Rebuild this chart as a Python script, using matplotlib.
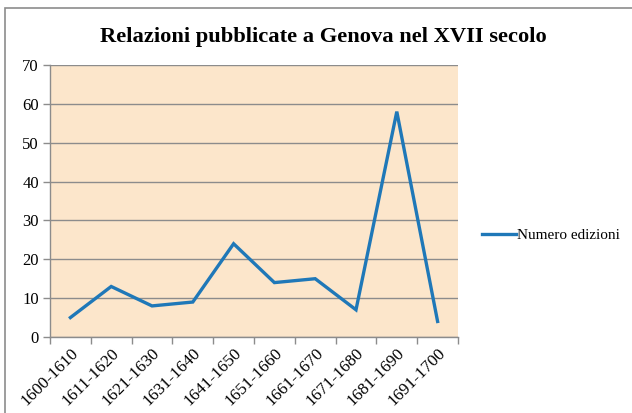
import matplotlib
matplotlib.use("Agg")
import matplotlib.pyplot as plt
import numpy as np
from matplotlib.patches import Rectangle
from matplotlib.lines import Line2D

categories = ["1600-1610", "1611-1620", "1621-1630", "1631-1640", "1641-1650",
              "1651-1660", "1661-1670", "1671-1680", "1681-1690", "1691-1700"]
values = [5, 13, 8, 9, 24, 14, 15, 7, 58, 4]
yticks = [0, 10, 20, 30, 40, 50, 60, 70]

plt.rcParams['font.family'] = ['Liberation Serif', 'DejaVu Serif']

fig = plt.figure(figsize=(6.32, 4.13), dpi=100)
fig.patch.set_facecolor('white')
W, H = 632, 413
ax = fig.add_axes([50 / W, 1 - 337 / H, (458 - 50) / W, (337 - 65) / H])
ax.set_facecolor('#fce6cb')

x = np.arange(len(categories))
line_color = '#1f78b8'
ax.plot(x, values, color=line_color, lw=2.4, solid_joinstyle='miter', zorder=3)

ax.set_xlim(-0.5, len(categories) - 0.5)
ax.set_ylim(0, 70)
ax.set_yticks(yticks)
ax.set_yticklabels([str(v) for v in yticks], fontsize=12)
ax.yaxis.grid(True, color='#8c8c8c', lw=1.0)
ax.set_axisbelow(True)

ax.set_xticks(x)
ax.set_xticklabels(categories, rotation=45, ha='right', rotation_mode='anchor', fontsize=12.3)
ax.set_xticks(np.arange(-0.5, len(categories)), minor=True)
ax.tick_params(axis='x', which='major', length=0, pad=6)
ax.tick_params(axis='x', which='minor', length=5, color='#8c8c8c', width=1)
ax.tick_params(axis='y', length=5, color='#8c8c8c', width=1, pad=3)

for s in ['top', 'right']:
    ax.spines[s].set_visible(False)
for s in ['left', 'bottom']:
    ax.spines[s].set_color('#8c8c8c')
    ax.spines[s].set_linewidth(1.0)

fig.text(323 / W, 1 - 37 / H, "Relazioni pubblicate a Genova nel XVII secolo",
         ha='center', va='center', fontsize=16.2, fontweight='bold')

leg = ax.legend([Line2D([0], [0], color=line_color, lw=2.4)], ["Numero edizioni"],
                loc='center left', bbox_to_anchor=((482 - 50) / 408, 0.375), frameon=False,
                fontsize=11, handlelength=2.2, handletextpad=0.1,
                borderaxespad=0, borderpad=0)

fig.patches.append(Rectangle((5 / W, -0.01), (W - 5) / W + 0.01, 1 - 8 / H + 0.01,
                             transform=fig.transFigure, fill=False,
                             edgecolor='#8c8c8c', lw=1.2))

fig.savefig("out.png", dpi=100)
